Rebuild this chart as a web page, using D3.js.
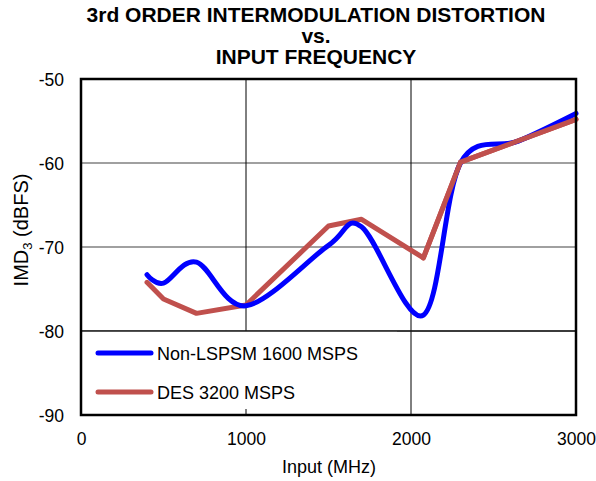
<!DOCTYPE html>
<html>
<head>
<meta charset="utf-8">
<script src="https://cdn.jsdelivr.net/npm/d3@7/dist/d3.min.js"></script>
<style>
  html, body { margin: 0; padding: 0; background: #fff; }
  svg { display: block; font-family: "Liberation Sans", Arial, sans-serif; }
</style>
</head>
<body>
<svg id="chart" width="596" height="481"></svg>
<script>
// Input frequency (MHz) and IMD3 (dBFS) for each configuration
const freqNonLspsm = [400, 500, 700, 1000, 1500, 1700, 2075, 2300, 2650, 3000];
const imdNonLspsm  = [-73.3, -74.3, -71.8, -77.0, -69.8, -67.6, -78.1, -60.0, -57.4, -54.1];

const freqDes = [400, 500, 700, 1000, 1500, 1700, 2075, 2300, 3000];
const imdDes  = [-74.2, -76.2, -77.9, -76.9, -67.5, -66.7, -71.3, -59.9, -54.8];

const seriesNames = ["Non-LSPSM 1600 MSPS", "DES 3200 MSPS"];
const xTicks = [0, 1000, 2000, 3000];
const yTicks = [-90, -80, -70, -60, -50];
const titleLines = ["3rd ORDER INTERMODULATION DISTORTION", "vs.", "INPUT FREQUENCY"];

const svg = d3.select("#chart");
const W = 596, H = 481;
const plot = { left: 81, right: 576, top: 79, bottom: 415 };

svg.append("rect").attr("width", W).attr("height", H).attr("fill", "#fff");

const x = d3.scaleLinear().domain([0, 3000]).range([plot.left, plot.right]);
const y = d3.scaleLinear().domain([-90, -50]).range([plot.bottom, plot.top]);

// Three-line bold title
const title = svg.append("text").attr("font-weight", "bold").attr("font-size", 21)
  .attr("text-anchor", "middle").attr("fill", "#000");
[22, 43, 64].forEach((b, i) => {
  title.append("tspan").attr("x", 316).attr("y", b).text(titleLines[i]);
});

// Horizontal gridlines
svg.append("g").selectAll("line").data(yTicks.slice(1, -1)).join("line")
  .attr("x1", plot.left).attr("x2", plot.right)
  .attr("y1", d => y(d)).attr("y2", d => y(d))
  .attr("stroke", "#808080").attr("stroke-width", 1.5);

// Vertical gridlines
svg.append("g").selectAll("line").data(xTicks.slice(1, -1)).join("line")
  .attr("x1", d => x(d)).attr("x2", d => x(d))
  .attr("y1", plot.top).attr("y2", plot.bottom)
  .attr("stroke", "#000").attr("stroke-width", 1);

// Legend background panel (sits under the lower-left part of the plot)
const legendTop = y(-80);
svg.append("rect")
  .attr("x", plot.left + 1).attr("y", legendTop)
  .attr("width", 315).attr("height", 78)
  .attr("fill", "#fff");
svg.append("line")
  .attr("x1", plot.left).attr("x2", plot.right)
  .attr("y1", legendTop).attr("y2", legendTop)
  .attr("stroke", "#1a1a1a").attr("stroke-width", 1.5);

// Series
const colors = ["#0000FF", "#C0504D"];
const smooth = d3.line().x(d => x(d[0])).y(d => y(d[1])).curve(d3.curveCardinal.tension(0));
const straight = d3.line().x(d => x(d[0])).y(d => y(d[1]));

svg.append("path")
  .datum(d3.zip(freqDes, imdDes))
  .attr("d", straight)
  .attr("fill", "none").attr("stroke", colors[1]).attr("stroke-width", 5)
  .attr("stroke-linejoin", "round").attr("stroke-linecap", "round");

svg.append("path")
  .datum(d3.zip(freqNonLspsm, imdNonLspsm))
  .attr("d", smooth)
  .attr("fill", "none").attr("stroke", colors[0]).attr("stroke-width", 5)
  .attr("stroke-linejoin", "round").attr("stroke-linecap", "round");

// Redraw the red over the blue where they overlap on the right
svg.append("path")
  .datum(d3.zip(freqDes, imdDes).slice(6))
  .attr("d", straight)
  .attr("fill", "none").attr("stroke", colors[1]).attr("stroke-width", 5)
  .attr("stroke-linejoin", "round").attr("stroke-linecap", "round");

// Plot frame
svg.append("rect")
  .attr("x", plot.left).attr("y", plot.top)
  .attr("width", plot.right - plot.left).attr("height", plot.bottom - plot.top)
  .attr("fill", "none").attr("stroke", "#000").attr("stroke-width", 2.5);

// Axes (labels only; the frame supplies the lines)
const fmt = d => String(d);
const xAxis = svg.append("g").attr("transform", `translate(0,${plot.bottom})`)
  .call(d3.axisBottom(x).tickValues(xTicks).tickSize(0).tickPadding(0).tickFormat(fmt));
xAxis.select(".domain").remove();
xAxis.attr("font-family", null);
xAxis.selectAll("text").attr("font-size", 17.5).attr("fill", "#000")
  .attr("dy", 0).attr("y", 30);

const yAxis = svg.append("g").attr("transform", `translate(${plot.left},0)`)
  .call(d3.axisLeft(y).tickValues(yTicks).tickSize(0).tickPadding(0).tickFormat(fmt));
yAxis.select(".domain").remove();
yAxis.attr("font-family", null);
yAxis.selectAll("text").attr("font-size", 17.5).attr("fill", "#000")
  .attr("x", -17).attr("dy", "0.35em");

// Axis titles
svg.append("text").attr("x", 329).attr("y", 473).attr("text-anchor", "middle")
  .attr("font-size", 18).text("Input (MHz)");

const yl = svg.append("text").attr("transform", "translate(28,230) rotate(-90)")
  .attr("text-anchor", "middle").attr("font-size", 20);
yl.append("tspan").text("IMD");
yl.append("tspan").attr("font-size", 13).attr("dy", 4).text("3");
yl.append("tspan").attr("dy", -4).text(" (dBFS)");

// Legend entries
const legendRows = [353, 392];
seriesNames.forEach((name, i) => {
  svg.append("line")
    .attr("x1", 98).attr("x2", 151).attr("y1", legendRows[i]).attr("y2", legendRows[i])
    .attr("stroke", colors[i]).attr("stroke-width", 5).attr("stroke-linecap", "round");
  svg.append("text").attr("x", 157).attr("y", legendRows[i] + 7)
    .attr("font-size", 18).attr("fill", "#000").text(name);
});
</script>
</body>
</html>
